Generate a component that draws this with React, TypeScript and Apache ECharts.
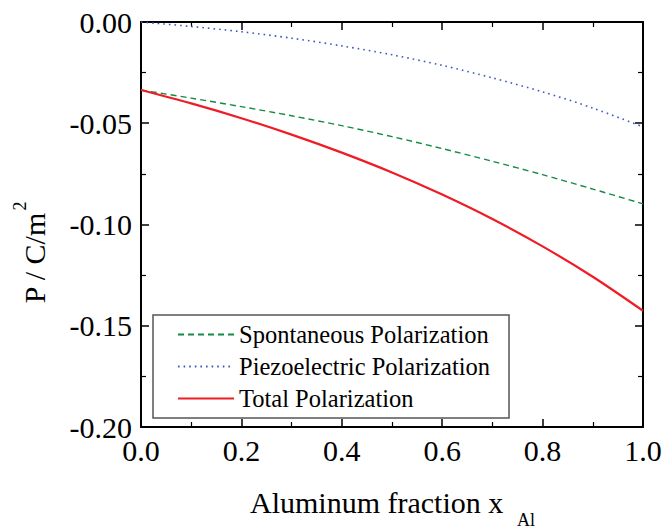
import React, { useEffect, useRef } from "react";
import * as echarts from "echarts";

const xValues = [0, 0.1, 0.2, 0.3, 0.4, 0.5, 0.6, 0.7, 0.8, 0.9, 1.0];
const spontaneous = [-0.0336, -0.0376, -0.0418, -0.0463, -0.0512, -0.0566, -0.0625, -0.0688, -0.0754, -0.0825, -0.0898];
const piezoelectric = [0, -0.0022, -0.0048, -0.0080, -0.0118, -0.0162, -0.0214, -0.0276, -0.0345, -0.0425, -0.0518];
const total = [-0.0336, -0.0402, -0.0475, -0.0556, -0.0645, -0.0743, -0.0852, -0.0973, -0.1108, -0.1258, -0.1426];

const seriesNames = ["Spontaneous Polarization", "Piezoelectric Polarization", "Total Polarization"];
const xTitle = "Aluminum fraction x";
const xTitleSub = "Al";
const yTitle = "P / C/m";
const yTitleSup = "2";

const FONT = "Liberation Serif, Times New Roman, Tinos, DejaVu Serif, serif";

export default function App() {
  const ref = useRef<HTMLDivElement>(null);
  useEffect(() => {
    if (!ref.current) return;
    const chart = echarts.init(ref.current, undefined, { renderer: "svg" });
    const pair = (ys: number[]) => xValues.map((x, i) => [x, ys[i]]);
    const axisCommon = {
      axisLine: { show: true, onZero: false, lineStyle: { color: "#000", width: 2 } },
      axisTick: { show: true, inside: true, length: 8, lineStyle: { color: "#000", width: 1.5 } },
      minorTick: { show: true, splitNumber: 2, length: 5, lineStyle: { color: "#000", width: 1.2 } },
      splitLine: { show: false },
      minorSplitLine: { show: false },
    };
    chart.setOption({
      animation: false,
      textStyle: { fontFamily: FONT },
      grid: { left: 141, right: 25, top: 22, bottom: 103, containLabel: false },
      xAxis: [
        {
          type: "value", min: 0, max: 1, interval: 0.2, position: "bottom",
          ...axisCommon,
          axisLabel: { show: true, margin: 8, color: "#000", fontSize: 30, fontFamily: FONT, formatter: (v: number) => v.toFixed(1) },
        },
        {
          type: "value", min: 0, max: 1, interval: 0.2, position: "top",
          ...axisCommon,
          axisLabel: { show: false },
        },
      ],
      yAxis: [
        {
          type: "value", min: -0.2, max: 0, interval: 0.05, position: "left",
          ...axisCommon,
          axisLabel: { show: true, margin: 9, color: "#000", fontSize: 30, fontFamily: FONT, formatter: (v: number) => (Math.abs(v) < 1e-9 ? "0.00" : v.toFixed(2)) },
        },
        {
          type: "value", min: -0.2, max: 0, interval: 0.05, position: "right",
          ...axisCommon,
          axisLabel: { show: false },
        },
      ],
      legend: {
        orient: "vertical",
        left: 153,
        top: 315,
        padding: [7, 19, 7, 24],
        itemWidth: 56,
        itemHeight: 24,
        itemGap: 7,
        borderColor: "#555",
        borderWidth: 1.5,
        backgroundColor: "#fff",
        data: seriesNames,
        itemStyle: { opacity: 0 },
        textStyle: { color: "#000", fontSize: 24.5, lineHeight: 24, fontFamily: FONT },
      },
      series: [
        {
          name: seriesNames[0], type: "line", data: pair(spontaneous), smooth: 0.3, symbol: "none",
          lineStyle: { color: "#138a46", width: 1.4, type: [6, 4] }, itemStyle: { color: "#138a46" },
        },
        {
          name: seriesNames[1], type: "line", data: pair(piezoelectric), smooth: 0.3, symbol: "none",
          lineStyle: { color: "#4058c0", width: 1.6, type: [1.6, 4] }, itemStyle: { color: "#4058c0" },
        },
        {
          name: seriesNames[2], type: "line", data: pair(total), smooth: 0.3, symbol: "none",
          lineStyle: { color: "#ee1c25", width: 2.2, type: "solid" }, itemStyle: { color: "#ee1c25" },
        },
      ],
      graphic: [
        {
          type: "text", x: 250, y: 502,
          style: { text: xTitle, fill: "#000", fontSize: 30, fontFamily: FONT, textAlign: "left", textVerticalAlign: "middle" },
        },
        {
          type: "text", x: 517, y: 520,
          style: { text: xTitleSub, fill: "#000", fontSize: 18, fontFamily: FONT, textAlign: "left", textVerticalAlign: "middle" },
        },
        {
          type: "text", x: 34, y: 258, rotation: Math.PI / 2,
          style: { text: yTitle, fill: "#000", fontSize: 30, fontFamily: FONT, textAlign: "center", textVerticalAlign: "middle" },
        },
        {
          type: "text", x: 19.5, y: 206, rotation: Math.PI / 2,
          style: { text: yTitleSup, fill: "#000", fontSize: 18, fontFamily: FONT, textAlign: "center", textVerticalAlign: "middle" },
        },
      ],
    });
    return () => chart.dispose();
  }, []);
  return <div ref={ref} style={{ width: 668, height: 530, position: "absolute", left: 0, top: 0 }} />;
}
